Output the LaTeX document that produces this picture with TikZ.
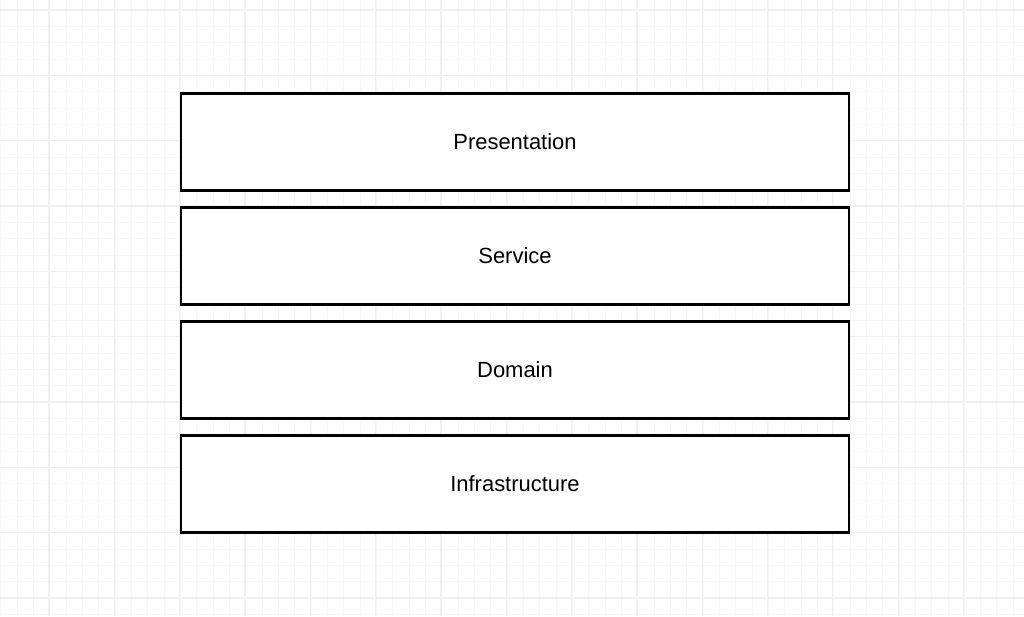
\documentclass[tikz,border=0pt]{standalone}
\usepackage{fontspec}
\setmainfont{Liberation Sans}
\usetikzlibrary{positioning}
\tikzset{layer/.style={draw, fill=white, line width=1.3pt, minimum width=668*0.02cm, minimum height=97*0.02cm, inner sep=0pt, outer sep=0pt, font=\fontsize{12.5}{15}\selectfont}}

\begin{document}
\begin{tikzpicture}[x=0.02cm,y=-0.02cm]
\useasboundingbox (0,0) rectangle (1024,616);
\foreach \i in {0,...,63} \draw[line width=0.4pt, color=black!3](0.7+\i*16.33,0) -- (0.7+\i*16.33,616);
\foreach \i in {0,...,38} \draw[line width=0.4pt, color=black!3](0,10+\i*16.33-16.33) -- (1024,10+\i*16.33-16.33);
\foreach \i in {0,...,15} \draw[line width=0.6pt, color=black!6](49+\i*65.33,0) -- (49+\i*65.33,616);
\foreach \i in {0,...,9} \draw[line width=0.6pt, color=black!6](0,10+\i*65.33) -- (1024,10+\i*65.33);
\node[layer] (presentation) at (515,142) {Presentation};
\node[layer] (service) at (515,256) {Service};
\node[layer] (domain) at (515,370) {Domain};
\node[layer] (infrastructure) at (515,484) {Infrastructure};
\end{tikzpicture}
\end{document}
